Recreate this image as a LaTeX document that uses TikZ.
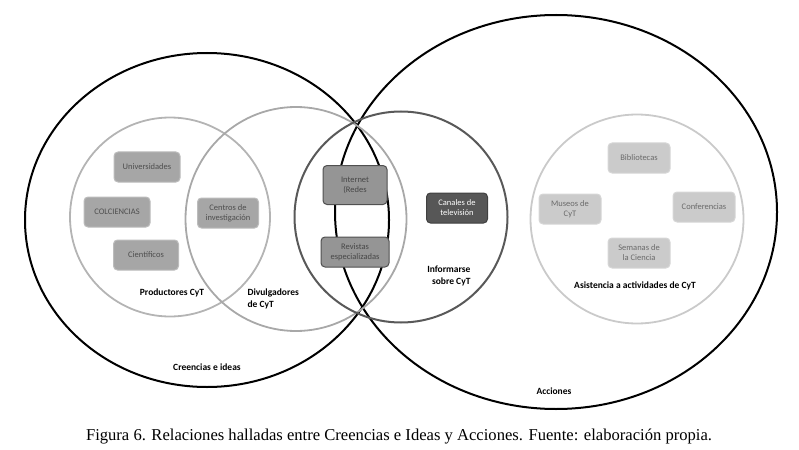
\documentclass[tikz,border=0pt]{standalone}
\usepackage{fontspec}
\setmainfont{Carlito}
\newfontfamily\capfont{Liberation Serif}
\usetikzlibrary{shapes.geometric}
\definecolor{prodgray}{HTML}{B4B4B4}
\definecolor{divgray}{HTML}{A8A8A8}
\definecolor{infgray}{HTML}{595959}
\definecolor{asisgray}{HTML}{CACACA}
\definecolor{boxfill}{HTML}{A6A6A6}
\definecolor{boxline}{HTML}{BCBCBC}
\definecolor{boxtext}{HTML}{4E4E4E}
\definecolor{midfill}{HTML}{959595}
\definecolor{midline}{HTML}{505050}
\definecolor{darkfill}{HTML}{575757}
\definecolor{palefill}{HTML}{CBCBCB}
\definecolor{paleline}{HTML}{D6D6D6}
\definecolor{paletext}{HTML}{6A6A6A}
\tikzset{
  bigset/.style= {draw, ellipse, inner sep=0, line width=2},
  subset/.style= {draw, ellipse, inner sep=0, line width=1.8},
  box/.style= {draw=boxline, fill=boxfill, text=boxtext, rounded corners=4, line width=1,
    minimum width=64, minimum height=30, align=center, inner sep=1,
    font=\fontsize{8.5}{10}\selectfont},
  midbox/.style= {box, draw=midline, fill=midfill, text=black!72},
  darkbox/.style= {box, draw=black!75, fill=darkfill, text=white},
  palebox/.style= {box, draw=paleline, fill=palefill, text=paletext},
  tag/.style= {font=\bfseries\fontsize{9.5}{12.5}\selectfont},
}

\begin{document}
\begin{tikzpicture}[x=1pt, y=-1pt]
  \useasboundingbox (0,0) rectangle (799,449);
  \node [bigset, minimum width=364, minimum height=334] (creencias) at (207,220) {} ;
  \node [bigset, minimum width=442, minimum height=394] (acciones) at (556,212) {} ;
  \node [subset, draw=prodgray, minimum width=200, minimum height=199] (productores) at (170,217) {} ;
  \node [subset, draw=divgray, minimum width=221, minimum height=224] (divulgadores) at (296,219) {} ;
  \node [subset, draw=infgray, line width=2, minimum width=213, minimum height=211] (informarse) at (401,217) {} ;
  \node [subset, draw=asisgray, minimum width=213, minimum height=209] (asistencia) at (637,219) {} ;

  \node [box, minimum width=66] (univ) at (147,167) {Universidades} ;
  \node [box, minimum width=66] (colc) at (117,212) {COLCIENCIAS} ;
  \node [box, minimum width=65] (cient) at (146,255) {Científicos} ;
  \node [box, minimum width=61] (centros) at (228,213) {Centros de\\investigación} ;
  \node [midbox, minimum height=39] (internet) at (355,185) {Internet\\(Redes} ;
  \node [midbox, minimum width=68] (revistas) at (355,252) {Revistas\\especializadas} ;
  \node [darkbox, minimum width=61] (canales) at (457,208) {Canales de\\televisión} ;
  \node [palebox, minimum width=62] (biblio) at (639,158) {Bibliotecas} ;
  \node [palebox, minimum width=62] (museos) at (570,209) {Museos de\\CyT} ;
  \node [palebox, minimum width=62] (confer) at (704,207) {Conferencias} ;
  \node [palebox, minimum width=62] (semanas) at (639,253) {Semanas de\\la Ciencia} ;

  \node [tag] (tprod) at (172,293) {Productores CyT} ;
  \node [tag, align=left, anchor=west] (tdiv) at (244,299) {Divulgadores\\de CyT} ;
  \node [tag] (tcre) at (207,367) {Creencias e ideas} ;
  \node [tag, align=right, anchor=east] (tinf) at (474,276) {Informarse\\sobre CyT} ;
  \node [tag] (tasis) at (635,286) {Asistencia a actividades de CyT} ;
  \node [tag] (tacc) at (554,391) {Acciones} ;

  \node [font=\capfont\fontsize{16.6}{18}\selectfont, anchor=base] (caption) at (399,440)
    {Figura 6. Relaciones halladas entre Creencias e Ideas y Acciones. Fuente: elaboración propia.} ;
\end{tikzpicture}
\end{document}
